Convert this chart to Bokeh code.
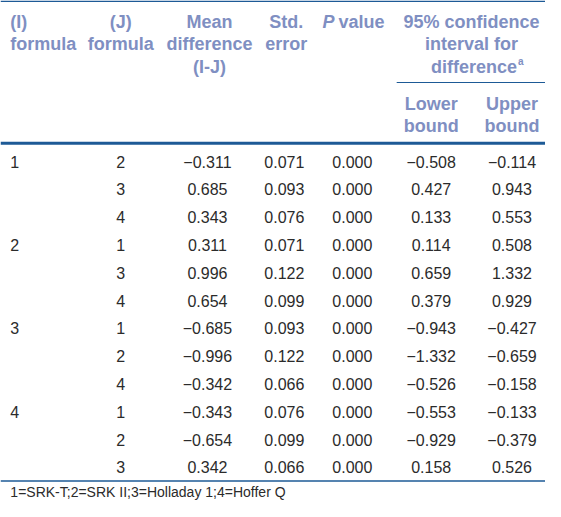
from bokeh.plotting import figure
from bokeh.models import Range1d
from bokeh.core.properties import value
from bokeh.embed import file_html
from bokeh.resources import INLINE

# ---- data ----
i_formula = ["1", "", "", "2", "", "", "3", "", "", "4", "", ""]
j_formula = ["2", "3", "4", "1", "3", "4", "1", "2", "4", "1", "2", "3"]
mean_diff = [-0.311, 0.685, 0.343, 0.311, 0.996, 0.654, -0.685, -0.996, -0.342, -0.343, -0.654, 0.342]
std_err = [0.071, 0.093, 0.076, 0.071, 0.122, 0.099, 0.093, 0.122, 0.066, 0.076, 0.099, 0.066]
p_value = [0.000, 0.000, 0.000, 0.000, 0.000, 0.000, 0.000, 0.000, 0.000, 0.000, 0.000, 0.000]
lower_bound = [-0.508, 0.427, 0.133, 0.114, 0.659, 0.379, -0.943, -1.332, -0.526, -0.553, -0.929, 0.158]
upper_bound = [-0.114, 0.943, 0.553, 0.508, 1.332, 0.929, -0.427, -0.659, -0.158, -0.133, -0.379, 0.526]
footnote = "1=SRK-T;2=SRK II;3=Holladay 1;4=Hoffer Q"

FONT = value("Liberation Sans")
HEAD_COLOR = "#7f8fc2"
TEXT_COLOR = "#2b2b2b"
LINE_COLOR = "#1d5a96"

def fmt(v):
    return f"{v:.3f}".replace("-", "\u2212")

W, H = 545, 501
XMAX = 553
p = figure(width=W, height=H, x_range=Range1d(0, XMAX), y_range=Range1d(H, 0),
           output_backend="svg", toolbar_location=None, min_border=0,
           x_axis_type=None, y_axis_type=None, tools="")
p.grid.visible = False
p.outline_line_color = None
p.background_fill_color = "white"
p.border_fill_color = "white"

n = len(j_formula)
row_top, row_step = 161.0, 27.8
row_y = [row_top + row_step * k for k in range(n)]

# ---- rules ----
p.segment(x0=[0], y0=[0.8], x1=[XMAX], y1=[0.8], line_color=LINE_COLOR, line_width=1.6)
p.segment(x0=[402], y0=[82], x1=[XMAX], y1=[82], line_color=LINE_COLOR, line_width=1.2)
p.segment(x0=[0], y0=[142.7], x1=[XMAX], y1=[142.7], line_color=LINE_COLOR, line_width=3)
p.segment(x0=[0], y0=[480.5], x1=[XMAX], y1=[480.5], line_color=LINE_COLOR, line_width=1.4)

# ---- header ----
def head(x, y, t, align="center", style="bold", size="18px"):
    p.text(x=[x], y=[y], text=[t], text_font=FONT, text_font_size=size,
           text_font_style=style, text_color=HEAD_COLOR, text_align=align,
           text_baseline="middle")

h1, h2, h3 = 21, 43.5, 66
head(10, h1, "(I)", align="left")
head(10, h2, "formula", align="left")
head(122, h1, "(J)")
head(122, h2, "formula")
head(212, h1, "Mean")
head(212, h2, "difference")
head(212, h3, "(I-J)")
head(290, h1, "Std.")
head(290, h2, "error")
head(339, h1, "P", align="right", style="bold italic")
head(343, h1, "value", align="left")
head(478, h1, "95% confidence")
head(478, h2, "interval for")
head(524, h3, "difference", align="right")
head(525, h3 - 5, "a", align="left", size="10px")
head(437, 103, "Lower")
head(437, 125, "bound")
head(519, 103, "Upper")
head(519, 125, "bound")

# ---- body ----
def col(x, texts, align="center"):
    p.text(x=[x] * len(texts), y=row_y, text=texts, text_font=FONT,
           text_font_size="16px", text_color=TEXT_COLOR, text_align=align,
           text_baseline="middle")

col(10, i_formula, align="left")
col(122, j_formula)
col(210, [fmt(v) for v in mean_diff])
col(288, [fmt(v) for v in std_err])
col(357, [fmt(v) for v in p_value])
col(437, [fmt(v) for v in lower_bound])
col(519, [fmt(v) for v in upper_bound])

p.text(x=[10], y=[491.5], text=[footnote], text_font=FONT, text_font_size="14px",
       text_color=TEXT_COLOR, text_align="left", text_baseline="middle")

open("out.html", "w").write(file_html(p, INLINE))
